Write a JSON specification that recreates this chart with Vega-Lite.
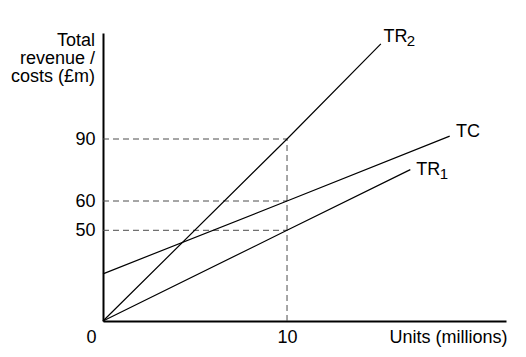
{
  "$schema": "https://vega.github.io/schema/vega-lite/v6.json",
  "width": 403,
  "height": 288,
  "autosize": {"type": "none"},
  "padding": {"left": 103, "top": 33, "right": 20, "bottom": 36},
  "config": {"view": {"stroke": null}, "font": "Liberation Sans"},
  "datasets": {
    "lines": [
      {"series": "TR2", "x": 0, "y": 0},
      {"series": "TR2", "x": 10, "y": 90},
      {"series": "TR2", "x": 15.1, "y": 136},
      {"series": "TC", "x": 0, "y": 26},
      {"series": "TC", "x": 10, "y": 60},
      {"series": "TC", "x": 18.84, "y": 91.4},
      {"series": "TR1", "x": 0, "y": 0},
      {"series": "TR1", "x": 10, "y": 50},
      {"series": "TR1", "x": 16.7, "y": 75.2}
    ],
    "guides": [
      {"x": 0, "x2": 10, "y": 90, "y2": 90},
      {"x": 0, "x2": 10, "y": 60, "y2": 60},
      {"x": 0, "x2": 10, "y": 50, "y2": 50},
      {"x": 10, "x2": 10, "y": 0, "y2": 90}
    ],
    "labels": [
      {"name": "TR2", "main": "TR", "sub": "2", "x": 15.1, "y": 136},
      {"name": "TC", "main": "TC", "sub": "", "x": 18.84, "y": 91.4},
      {"name": "TR1", "main": "TR", "sub": "1", "x": 16.7, "y": 75.2}
    ]
  },
  "encoding": {
    "x": {
      "field": "x",
      "type": "quantitative",
      "scale": {"domain": [0, 21.9], "range": [0, 403], "nice": false, "zero": false},
      "axis": {
        "values": [0, 10],
        "grid": false,
        "ticks": false,
        "tickSize": 0,
        "domainColor": "black",
        "domainWidth": 2,
        "labelFontSize": 18,
        "labelColor": "black",
        "labelFlush": false,
        "labelBaseline": "alphabetic",
        "labelPadding": 21.5,
        "labelOffset": {"condition": {"test": "datum.value == 0", "value": -12}, "value": 0},
        "title": "Units (millions)",
        "titleFontSize": 18,
        "titleFontWeight": "normal",
        "titleColor": "black",
        "titleAlign": "right",
        "titleAnchor": "end",
        "titleBaseline": "alphabetic",
        "titleX": 404,
        "titleY": 21.5
      }
    },
    "y": {
      "field": "y",
      "type": "quantitative",
      "scale": {"domain": [0, 50, 60, 90, 141.3], "range": [288, 197.3, 168, 106, 0], "nice": false, "zero": false},
      "axis": {
        "values": [50, 60, 90],
        "grid": false,
        "ticks": false,
        "tickSize": 0,
        "domainColor": "black",
        "domainWidth": 2,
        "labelFontSize": 18,
        "labelColor": "black",
        "labelPadding": 8,
        "title": ["Total", "revenue /", "costs (£m)"],
        "titleFontSize": 18,
        "titleFontWeight": "normal",
        "titleColor": "black",
        "titleAngle": 0,
        "titleAlign": "right",
        "titleBaseline": "alphabetic",
        "titleLineHeight": 18,
        "titleX": -8.5,
        "titleY": 12.7
      }
    }
  },
  "layer": [
    {
      "data": {"name": "guides"},
      "mark": {"type": "rule", "strokeDash": [6, 4], "color": "#4d4d4d", "strokeWidth": 1},
      "encoding": {"x2": {"field": "x2"}, "y2": {"field": "y2"}}
    },
    {
      "data": {"name": "lines"},
      "mark": {"type": "line", "color": "black", "strokeWidth": 1.2},
      "encoding": {"detail": {"field": "series"}}
    },
    {
      "data": {"name": "labels"},
      "transform": [{"filter": "datum.name == 'TR2'"}],
      "layer": [
        {"mark": {"type": "text", "align": "left", "baseline": "alphabetic", "dx": 2.6, "dy": -2.3, "fontSize": 18, "color": "black"}, "encoding": {"text": {"field": "main"}}},
        {"mark": {"type": "text", "align": "left", "baseline": "alphabetic", "dx": 26, "dy": 2.2, "fontSize": 15, "color": "black"}, "encoding": {"text": {"field": "sub"}}}
      ]
    },
    {
      "data": {"name": "labels"},
      "transform": [{"filter": "datum.name == 'TC'"}],
      "mark": {"type": "text", "align": "left", "baseline": "alphabetic", "dx": 6.4, "dy": 1.3, "fontSize": 18, "color": "black"},
      "encoding": {"text": {"field": "main"}}
    },
    {
      "data": {"name": "labels"},
      "transform": [{"filter": "datum.name == 'TR1'"}],
      "layer": [
        {"mark": {"type": "text", "align": "left", "baseline": "alphabetic", "dx": 6, "dy": 5.7, "fontSize": 18, "color": "black"}, "encoding": {"text": {"field": "main"}}},
        {"mark": {"type": "text", "align": "left", "baseline": "alphabetic", "dx": 29.5, "dy": 9.7, "fontSize": 15, "color": "black"}, "encoding": {"text": {"field": "sub"}}}
      ]
    }
  ]
}
